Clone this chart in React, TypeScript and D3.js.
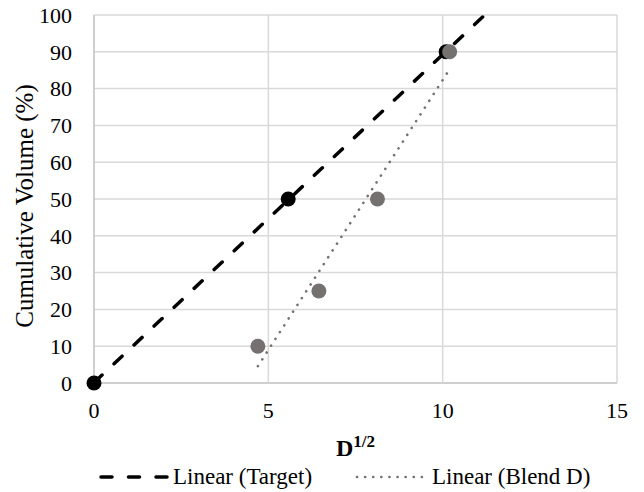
import React from "react";
import * as d3 from "d3";

// data
const targetX = [0, 5.57, 10.1];
const targetY = [0, 50, 90];
const blendX = [4.7, 6.45, 8.13, 10.2];
const blendY = [10, 25, 50, 90];
const xTicks = [0, 5, 10, 15];
const yTicks = [0, 10, 20, 30, 40, 50, 60, 70, 80, 90, 100];

const W = 644;
const H = 492;
const margin = { left: 94, right: 27, top: 15, bottom: 109 };
const font = '"Liberation Serif", "Times New Roman", serif';

function linreg(xs: number[], ys: number[]) {
  const mx = d3.mean(xs)!;
  const my = d3.mean(ys)!;
  let sxy = 0;
  let sxx = 0;
  xs.forEach((x, i) => {
    sxy += (x - mx) * (ys[i] - my);
    sxx += (x - mx) * (x - mx);
  });
  const m = sxy / sxx;
  return { m, b: my - m * mx };
}

export default function App() {
  const x = d3.scaleLinear().domain([0, 15]).range([margin.left, W - margin.right]);
  const y = d3.scaleLinear().domain([0, 100]).range([H - margin.bottom, margin.top]);

  // linear trendlines, like the spreadsheet's
  const tFit = linreg(targetX, targetY);
  const bFit = linreg(blendX, blendY);
  const tEnd = (100 - tFit.b) / tFit.m;
  const tPath = d3
    .line<number>()
    .x((d) => x(d))
    .y((d) => y(tFit.m * d + tFit.b))([0, tEnd]);
  const bPath = d3
    .line<number>()
    .x((d) => x(d))
    .y((d) => y(bFit.m * d + bFit.b))([d3.min(blendX)!, d3.max(blendX)!]);

  const grid = "#d9d9d9";
  const legendY = 477;
  const txt = { fontFamily: font, fill: "#000" };

  return (
    <svg
      width={W}
      height={H}
      style={{ position: "absolute", left: 0, top: 0, background: "#fff", fontFamily: font }}
    >
      <defs>
        <clipPath id="plot">
          <rect x={x(0)} y={y(100)} width={x(15) - x(0)} height={y(0) - y(100)} />
        </clipPath>
      </defs>

      {/* gridlines */}
      {yTicks.map((t) => (
        <line key={"h" + t} x1={x(0)} x2={x(15)} y1={y(t)} y2={y(t)} stroke={t === 0 ? "#bfbfbf" : grid} strokeWidth={1.5} />
      ))}
      {xTicks.map((t) => (
        <line key={"v" + t} x1={x(t)} x2={x(t)} y1={y(0)} y2={y(100)} stroke={t === 0 ? "#bfbfbf" : grid} strokeWidth={1.5} />
      ))}

      {/* tick labels */}
      {yTicks.map((t) => (
        <text key={"yl" + t} x={72} y={y(t)} dy="0.35em" textAnchor="end" fontSize={22} style={txt}>
          {t}
        </text>
      ))}
      {xTicks.map((t) => (
        <text key={"xl" + t} x={x(t)} y={418} textAnchor="middle" fontSize={22} style={txt}>
          {t}
        </text>
      ))}

      {/* axis titles */}
      <text
        transform={`translate(33,${(y(0) + y(100)) / 2 + 7}) rotate(-90)`}
        textAnchor="middle"
        fontSize={25}
        style={txt}
      >
        Cumulative Volume (%)
      </text>
      <text x={(x(0) + x(15)) / 2} y={456} textAnchor="middle" fontSize={24} fontWeight="bold" style={txt}>
        D<tspan fontSize={17} dy={-9}>1/2</tspan>
      </text>

      {/* trendlines */}
      <g clipPath="url(#plot)">
        <path d={tPath!} fill="none" stroke="#000" strokeWidth={3.5} strokeDasharray="11,16.5" strokeLinecap="round" />
        <path d={bPath!} fill="none" stroke="#767171" strokeWidth={2.6} strokeDasharray="0.1,8" strokeLinecap="round" />
      </g>

      {/* points */}
      {targetX.map((d, i) => (
        <circle key={"t" + i} cx={x(d)} cy={y(targetY[i])} r={7.5} fill="#000" />
      ))}
      {blendX.map((d, i) => (
        <circle key={"b" + i} cx={x(d)} cy={y(blendY[i])} r={7.5} fill="#767171" />
      ))}

      {/* legend */}
      <line x1={100} x2={170} y1={legendY} y2={legendY} stroke="#000" strokeWidth={3.5} strokeDasharray="11,16.5" strokeLinecap="round" strokeDashoffset={-1} />
      <text x={173} y={484} fontSize={23} style={txt}>
        Linear (Target)
      </text>
      <line x1={357} x2={425} y1={legendY} y2={legendY} stroke="#767171" strokeWidth={2.6} strokeDasharray="0.1,8" strokeLinecap="round" />
      <text x={432} y={484} fontSize={23} style={txt}>
        Linear (Blend D)
      </text>
    </svg>
  );
}
